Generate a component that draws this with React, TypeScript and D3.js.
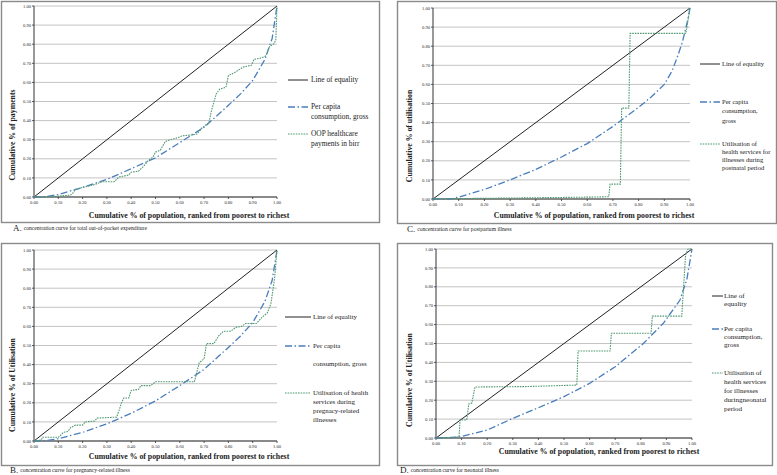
import React from "react";
import * as d3 from "d3";

// ---------- data ----------
const xTicks = [0, 0.1, 0.2, 0.3, 0.4, 0.5, 0.6, 0.7, 0.8, 0.9, 1.0];
const tickLabels = ["0.00", "0.10", "0.20", "0.30", "0.40", "0.50", "0.60", "0.70", "0.80", "0.90", "1.00"];
const equality: [number, number][] = [[0, 0], [1, 1]];

const consumptionA: [number, number][] = [[0, 0], [0.05, 0.002], [0.1, 0.013], [0.2, 0.05], [0.3, 0.092], [0.4, 0.148], [0.5, 0.205], [0.6, 0.285], [0.7, 0.365], [0.8, 0.48], [0.85, 0.54], [0.9, 0.61], [0.95, 0.72], [0.98, 0.83], [1, 1]];
const oopA: [number, number][] = [[0, 0], [0.08, 0.002], [0.15, 0.01], [0.16, 0.02], [0.17, 0.04], [0.2, 0.05], [0.25, 0.065], [0.28, 0.08], [0.33, 0.08], [0.35, 0.105], [0.39, 0.115], [0.4, 0.13], [0.43, 0.135], [0.45, 0.16], [0.47, 0.19], [0.49, 0.21], [0.5, 0.235], [0.52, 0.245], [0.54, 0.29], [0.56, 0.3], [0.59, 0.31], [0.61, 0.32], [0.65, 0.325], [0.67, 0.33], [0.69, 0.36], [0.72, 0.39], [0.73, 0.45], [0.75, 0.54], [0.765, 0.565], [0.79, 0.575], [0.8, 0.635], [0.83, 0.655], [0.86, 0.68], [0.895, 0.69], [0.905, 0.72], [0.94, 0.73], [0.955, 0.74], [0.97, 0.79], [0.985, 0.8], [0.995, 0.82], [1, 1]];

const consumptionB: [number, number][] = [[0, 0], [0.05, 0.002], [0.1, 0.012], [0.2, 0.045], [0.3, 0.09], [0.4, 0.145], [0.5, 0.21], [0.6, 0.29], [0.7, 0.375], [0.8, 0.49], [0.85, 0.55], [0.9, 0.62], [0.95, 0.73], [0.98, 0.84], [1, 1]];
const pregnancyB: [number, number][] = [[0, 0], [0.03, 0.005], [0.035, 0.02], [0.1, 0.02], [0.11, 0.03], [0.12, 0.045], [0.14, 0.05], [0.15, 0.07], [0.17, 0.083], [0.2, 0.083], [0.21, 0.1], [0.25, 0.105], [0.26, 0.12], [0.34, 0.125], [0.35, 0.16], [0.36, 0.2], [0.37, 0.225], [0.39, 0.225], [0.4, 0.265], [0.43, 0.27], [0.44, 0.29], [0.48, 0.29], [0.49, 0.3], [0.5, 0.31], [0.66, 0.31], [0.67, 0.36], [0.68, 0.41], [0.7, 0.43], [0.71, 0.51], [0.74, 0.51], [0.76, 0.55], [0.78, 0.575], [0.81, 0.575], [0.83, 0.595], [0.855, 0.6], [0.87, 0.615], [0.915, 0.615], [0.94, 0.65], [0.96, 0.67], [0.975, 0.72], [0.99, 0.85], [1, 1]];

const consumptionC: [number, number][] = [[0, 0], [0.07, 0.001], [0.1, 0.01], [0.2, 0.05], [0.3, 0.1], [0.4, 0.155], [0.5, 0.22], [0.6, 0.29], [0.65, 0.335], [0.7, 0.38], [0.75, 0.43], [0.8, 0.48], [0.85, 0.535], [0.9, 0.6], [0.93, 0.67], [0.95, 0.74], [0.97, 0.82], [0.99, 0.93], [1, 1]];
const postnatalC: [number, number][] = [[0, 0], [0.08, 0.002], [0.3, 0.005], [0.62, 0.01], [0.684, 0.012], [0.689, 0.078], [0.729, 0.078], [0.734, 0.476], [0.762, 0.476], [0.767, 0.867], [0.984, 0.867], [1, 1]];

const consumptionD: [number, number][] = [[0, 0], [0.05, 0.002], [0.094, 0.006], [0.2, 0.042], [0.3, 0.104], [0.4, 0.16], [0.5, 0.219], [0.6, 0.289], [0.7, 0.377], [0.81, 0.5], [0.888, 0.607], [0.953, 0.73], [0.98, 0.84], [1, 1]];
const neonatalD: [number, number][] = [[0, 0], [0.09, 0.005], [0.094, 0.095], [0.12, 0.095], [0.128, 0.18], [0.14, 0.185], [0.152, 0.27], [0.35, 0.272], [0.55, 0.28], [0.555, 0.46], [0.68, 0.46], [0.685, 0.554], [0.84, 0.554], [0.845, 0.645], [0.96, 0.645], [0.975, 0.97], [0.985, 1.0], [1, 1]];

const xTitle = "Cumulative % of population, ranked from poorest to richest";

// ---------- styles ----------
const FONT = "Liberation Serif, Times New Roman, serif";
const C_EQ = "#222222";
const C_BLUE = "#4a7ebb";
const C_GREEN = "#4f9a72";
const DASH_BLUE = "7,2.5,1.5,2.5";
const DASH_GREEN = "1.6,1";

type Pt = [number, number];
interface PanelCfg {
  frame: { x: number; y: number; w: number; h: number };
  plot: { x0: number; x1: number; y0: number; y1: number };
  xTitle: { x: number; y: number };
  yTitle: { x: number; y: number; text: string };
  legend: { lx0: number; lx1: number; tx: number; fs: number; rows: { y: number; lh: number; lines: string[] }[] };
  caption: { x: number; y: number; letter: string; text: string };
  consumption: Pt[];
  green: Pt[];
}

const panels: PanelCfg[] = [
  {
    frame: { x: 1, y: 1, w: 378, h: 221 },
    plot: { x0: 34, x1: 277, y0: 197, y1: 6 },
    xTitle: { x: 189, y: 216 },
    yTitle: { x: 13, y: 135, text: "Cumulative % of payments" },
    legend: {
      lx0: 288, lx1: 308, tx: 311, fs: 7.4,
      rows: [
        { y: 80, lh: 10, lines: ["Line of equality"] },
        { y: 107, lh: 10, lines: ["Per capita", "consumption, gross"] },
        { y: 134, lh: 10, lines: ["OOP healthcare", "payments in birr"] },
      ],
    },
    caption: { x: 13, y: 229, letter: "A.", text: "concentration curve for total out-of-pocket expenditure" },
    consumption: consumptionA,
    green: oopA,
  },
  {
    frame: { x: 397, y: 1, w: 379, h: 222 },
    plot: { x0: 433, x1: 690, y0: 199, y1: 8 },
    xTitle: { x: 594, y: 216 },
    yTitle: { x: 410, y: 136, text: "Cumulative % of utilisation" },
    legend: {
      lx0: 700, lx1: 720, tx: 722, fs: 6.6,
      rows: [
        { y: 64, lh: 9, lines: ["Line of equality"] },
        { y: 102, lh: 9.5, lines: ["Per capita", "consumption,", "gross"] },
        { y: 144, lh: 8.3, lines: ["Utilisation of", "health services for", "illnesses during", "postnatal period"] },
      ],
    },
    caption: { x: 407, y: 230, letter: "C.", text: "concentration curve for postpartum illness" },
    consumption: consumptionC,
    green: postnatalC,
  },
  {
    frame: { x: 1, y: 243, w: 378, h: 222 },
    plot: { x0: 34, x1: 277, y0: 441, y1: 250 },
    xTitle: { x: 189, y: 457 },
    yTitle: { x: 13, y: 385, text: "Cumulative % of Utilisation" },
    legend: {
      lx0: 285, lx1: 311, tx: 313, fs: 6.9,
      rows: [
        { y: 317, lh: 9, lines: ["Line of equality"] },
        { y: 346, lh: 18, lines: ["Per capita", "consumption, gross"] },
        { y: 393, lh: 9, lines: ["Utilisation of health", "services during", "pregnacy-related", "illnesses"] },
      ],
    },
    caption: { x: 10, y: 470.5, letter: "B.", text: "concentration curve for pregnancy-related illness" },
    consumption: consumptionB,
    green: pregnancyB,
  },
  {
    frame: { x: 397, y: 243, w: 375, h: 222 },
    plot: { x0: 436, x1: 692, y0: 438, y1: 249 },
    xTitle: { x: 599, y: 452 },
    yTitle: { x: 410, y: 380, text: "Cumulative % of Utilisation" },
    legend: {
      lx0: 712, lx1: 723, tx: 724, fs: 7.1,
      rows: [
        { y: 296, lh: 8.5, lines: ["Line of", "equality"] },
        { y: 329, lh: 8, lines: ["Per capita", "consumption,", "gross"] },
        { y: 373, lh: 9, lines: ["Utilisation of", "health services", "for illnesses", "duringneonatal", "period"] },
      ],
    },
    caption: { x: 400, y: 470.5, letter: "D.", text: "concentration curve for neonatal illness" },
    consumption: consumptionD,
    green: neonatalD,
  },
];

function Panel({ cfg }: { cfg: PanelCfg }) {
  const { plot, frame, legend } = cfg;
  const x = d3.scaleLinear().domain([0, 1]).range([plot.x0, plot.x1]);
  const y = d3.scaleLinear().domain([0, 1]).range([plot.y0, plot.y1]);
  const line = d3.line<Pt>().x((d) => x(d[0])).y((d) => y(d[1]));
  const legendStyles = [
    { stroke: C_EQ, dash: undefined as string | undefined, w: 1 },
    { stroke: C_BLUE, dash: DASH_BLUE, w: 1.3 },
    { stroke: C_GREEN, dash: DASH_GREEN, w: 1.1 },
  ];
  return (
    <g>
      <rect x={frame.x + 0.5} y={frame.y + 0.5} width={frame.w} height={frame.h} fill="#fff" stroke="#8a8a8a" strokeWidth={1.4} />
      {xTicks.map((t, i) => (
        <line key={"g" + i} x1={plot.x0} x2={plot.x1} y1={y(t)} y2={y(t)} stroke="#c4c4c4" strokeWidth={1} />
      ))}
      {/* axes */}
      <line x1={plot.x0} x2={plot.x0} y1={plot.y0} y2={plot.y1} stroke="#333" strokeWidth={1} />
      <line x1={plot.x0} x2={plot.x1} y1={plot.y0} y2={plot.y0} stroke="#333" strokeWidth={1} />
      {xTicks.map((t, i) => (
        <g key={"t" + i}>
          <line x1={x(t)} x2={x(t)} y1={plot.y0} y2={plot.y0 + 2} stroke="#333" strokeWidth={0.8} />
          <line x1={plot.x0 - 2} x2={plot.x0} y1={y(t)} y2={y(t)} stroke="#333" strokeWidth={0.8} />
          <text x={x(t)} y={plot.y0 + 7} fontSize={4.6} textAnchor="middle" fill="#333" fontFamily={FONT}>{tickLabels[i]}</text>
          <text x={plot.x0 - 3} y={y(t) + 1.6} fontSize={4.6} textAnchor="end" fill="#333" fontFamily={FONT}>{tickLabels[i]}</text>
        </g>
      ))}
      {/* series */}
      <path d={line(equality) || ""} fill="none" stroke={C_EQ} strokeWidth={1} />
      <path d={line(cfg.consumption) || ""} fill="none" stroke={C_BLUE} strokeWidth={1.3} strokeDasharray={DASH_BLUE} />
      <path d={line(cfg.green) || ""} fill="none" stroke={C_GREEN} strokeWidth={1.1} strokeDasharray={DASH_GREEN} />
      {/* titles */}
      <text x={cfg.xTitle.x} y={cfg.xTitle.y} fontSize={7.8} fontWeight="bold" textAnchor="middle" dominantBaseline="middle" fill="#222" fontFamily={FONT}>{xTitle}</text>
      <text transform={`translate(${cfg.yTitle.x},${cfg.yTitle.y}) rotate(-90)`} fontSize={7.8} fontWeight="bold" textAnchor="middle" dominantBaseline="middle" fill="#222" fontFamily={FONT}>{cfg.yTitle.text}</text>
      {/* legend */}
      {legend.rows.map((r, i) => (
        <g key={"l" + i}>
          <line x1={legend.lx0} x2={legend.lx1} y1={r.y} y2={r.y} stroke={legendStyles[i].stroke} strokeWidth={legendStyles[i].w} strokeDasharray={legendStyles[i].dash} />
          {r.lines.map((s, j) => (
            <text key={j} x={legend.tx} y={r.y + j * r.lh} fontSize={legend.fs} dominantBaseline="middle" fill="#222" fontFamily={FONT}>{s}</text>
          ))}
        </g>
      ))}
      {/* caption */}
      <text x={cfg.caption.x} y={cfg.caption.y} dominantBaseline="middle" fill="#222" fontFamily={FONT}>
        <tspan fontSize={9}>{cfg.caption.letter}</tspan>
        <tspan fontSize={5.6} dx={2}>{cfg.caption.text}</tspan>
      </text>
    </g>
  );
}

export default function App() {
  return (
    <svg width={777} height={475} style={{ position: "absolute", left: 0, top: 0, background: "#fff" }}>
      <rect x={0} y={0} width={777} height={475} fill="#fff" />
      {panels.map((p, i) => (
        <Panel key={i} cfg={p} />
      ))}
    </svg>
  );
}
